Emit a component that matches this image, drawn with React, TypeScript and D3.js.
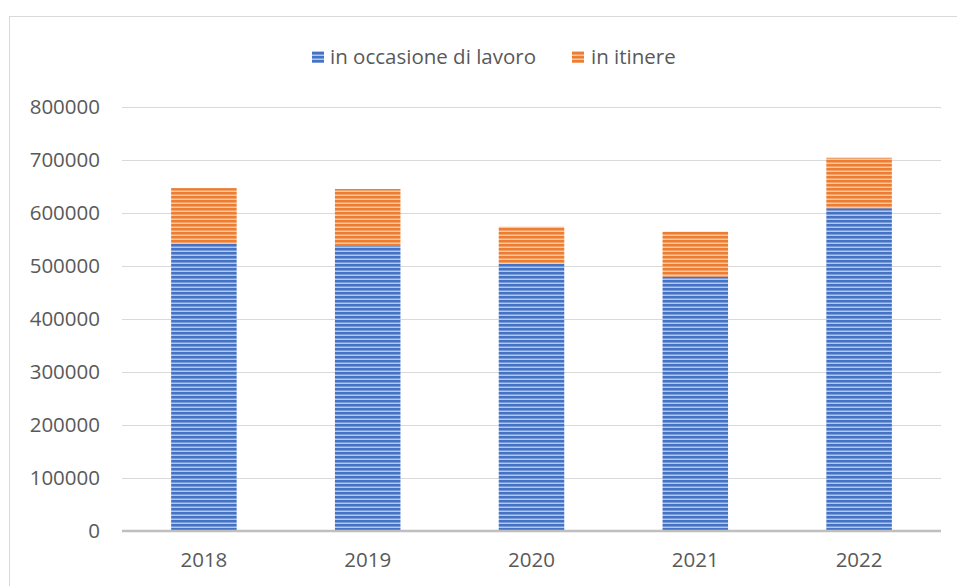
import React from "react";
import * as d3 from "d3";

const years = ["2018", "2019", "2020", "2021", "2022"];
const occasioneLavoro = [541500, 537700, 505000, 480000, 609000];
const inItinere = [105500, 107600, 69000, 84700, 95300];
const seriesNames = ["in occasione di lavoro", "in itinere"];
const yTicks = [0, 100000, 200000, 300000, 400000, 500000, 600000, 700000, 800000];

const W = 957;
const H = 586;
const FONT = "'Open Sans', 'Noto Sans', sans-serif";
const TEXT = "#595959";

export default function App() {
  const x = d3.scaleBand<string>().domain(years).range([122, 941]).paddingInner(0.6).paddingOuter(0.3);
  const y = d3.scaleLinear().domain([0, 800000]).range([531, 107]);

  const rows = years.map((yr, i) => ({ year: yr, a: occasioneLavoro[i], b: inItinere[i] }));
  const stack = d3.stack<any>().keys(["a", "b"])(rows);
  const fills = ["url(#pBlue)", "url(#pOrange)"];

  return (
    <svg width={W} height={H} style={{ position: "absolute", left: 0, top: 0, background: "#fff" }}>
      <defs>
        <pattern id="pBlue" patternUnits="userSpaceOnUse" width={8} height={4}>
          <rect width={8} height={4} fill="#4472C4" />
          <rect y={2.5} width={8} height={1.5} fill="#b4c6ea" />
        </pattern>
        <pattern id="pOrange" patternUnits="userSpaceOnUse" width={8} height={4}>
          <rect width={8} height={4} fill="#ED7D31" />
          <rect y={2.5} width={8} height={1.5} fill="#f8c8a4" />
        </pattern>
      </defs>
      <rect x={9.5} y={16.5} width={1000} height={1000} fill="none" stroke="#d9d9d9" strokeWidth={1} />

      {yTicks.map((t) => (
        <g key={t}>
          {t > 0 && (
            <line x1={122} x2={941} y1={Math.round(y(t)) + 0.5} y2={Math.round(y(t)) + 0.5} stroke="#d9d9d9" strokeWidth={1} />
          )}
          <text x={100} y={y(t)} dy="0.36em" textAnchor="end" fontFamily={FONT} fontSize={20.5} fill={TEXT}>
            {t}
          </text>
        </g>
      ))}

      {stack.map((s, si) =>
        s.map((d, i) => (
          <rect
            key={si + "-" + i}
            x={x(years[i])}
            width={x.bandwidth()}
            y={y(d[1])}
            height={y(d[0]) - y(d[1])}
            fill={fills[si]}
          />
        ))
      )}

      <line x1={122} x2={941} y1={531} y2={531} stroke="#bfbfbf" strokeWidth={2.5} />

      {years.map((yr) => (
        <text key={yr} x={(x(yr) as number) + x.bandwidth() / 2} y={560} dy="0.36em" textAnchor="middle" fontFamily={FONT} fontSize={20.5} fill={TEXT}>
          {yr}
        </text>
      ))}

      <g>
        <rect x={312} y={51} width={12} height={12} fill={fills[0]} />
        <text x={330} y={57} dy="0.36em" fontFamily={FONT} fontSize={20.5} fill={TEXT}>
          {seriesNames[0]}
        </text>
        <rect x={572} y={51} width={12} height={12} fill={fills[1]} />
        <text x={591} y={57} dy="0.36em" fontFamily={FONT} fontSize={20.5} fill={TEXT}>
          {seriesNames[1]}
        </text>
      </g>
    </svg>
  );
}
